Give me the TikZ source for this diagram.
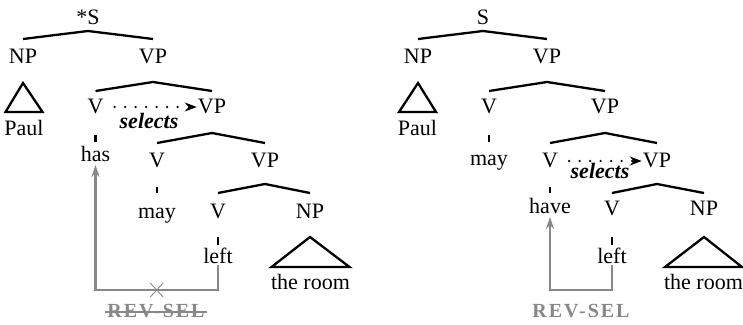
\documentclass[tikz,border=0pt]{standalone}
\usepackage{fontspec}
\setmainfont{Liberation Serif}
\newfontfamily\revfont[LetterSpace=10]{Liberation Serif}
\usetikzlibrary{arrows.meta,shapes.misc}
\definecolor{revgray}{RGB}{136,136,136}
\begin{document}
\begin{tikzpicture}[x=1pt,y=-1pt,
  every node/.style={inner sep=0pt, anchor=base, font=\fontsize{22}{26}\selectfont},
  br/.style={line width=2.3pt},
  sellink/.style={line width=2.6pt, line cap=round, dash pattern=on 0pt off 10.5pt},
  seltip/.style={line width=1pt, -{Stealth[length=12pt,width=9pt]}},
  selword/.style={font=\fontsize{22}{26}\selectfont\bfseries\itshape},
  revpath/.style={draw=revgray, line width=2.3pt, -{Stealth[length=12pt,width=8pt]}},
  revword/.style={text=revgray, font=\fontsize{20}{24}\selectfont\revfont\bfseries},
  xmark/.style={cross out, draw=revgray, line width=0.9pt, minimum width=12pt, minimum height=13pt, anchor=center},
  strike/.style={draw=revgray, line width=2pt}]
\useasboundingbox (0,0) rectangle (743,324);

% ---------- left tree ----------
\node (Sa) at (88,24) {*S};
\node (NPa) at (23,63) {NP};
\node (VPa) at (153,63) {VP};
\node (Paula) at (24,135) {Paul};
\node (Va) at (95.5,113) {V};
\node (VPa2) at (212,113) {VP};
\node[selword] (sela) at (149,128) {selects};
\node (hasa) at (95.5,161) {has};
\node (Va3) at (157,167) {V};
\node (VPa3) at (265,167) {VP};
\node (maya) at (157,218) {may};
\node (Va4) at (218,218) {V};
\node (NPa4) at (310,218) {NP};
\node (lefta) at (218,263) {left};
\node (rooma) at (310.5,289) {the room};
\node[revword] (reva) at (156,317) {REV-SEL};

\draw[br] ([yshift=24pt]NPa.base) -- ([yshift=-7pt]Sa.base) -- ([yshift=24pt]VPa.base);
\draw[br] ([yshift=22pt]Va.base) -- ([yshift=-19pt]VPa.base) -- ([yshift=22pt]VPa2.base);
\draw[br] ([yshift=24pt]Va3.base) -- ([yshift=-20pt]VPa2.base) -- ([yshift=24pt]VPa3.base);
\draw[br] ([yshift=25pt]Va4.base) -- ([yshift=-17pt]VPa3.base) -- ([yshift=25pt]NPa4.base);
\draw[br] ([yshift=-22pt]Va.base) -- ([yshift=19pt]hasa.base);
\draw[br] ([yshift=-20pt]Va3.base) -- ([yshift=25pt]maya.base);
\draw[br] ([yshift=-19pt]Va4.base) -- ([yshift=18pt]lefta.base);
\draw[br] ([yshift=-20pt]NPa.base) -- ([shift={(-18.5pt,23pt)}]Paula.base) -- ([shift={(18.5pt,23pt)}]Paula.base) -- cycle;
\draw[br] ([yshift=-19pt]NPa4.base) -- ([shift={(-39pt,22pt)}]rooma.base) -- ([shift={(39pt,22pt)}]rooma.base) -- cycle;
\draw[sellink] ([shift={(11pt,6pt)}]Va.base east) -- ([shift={(-10pt,6pt)}]VPa2.base west);
\draw[seltip] ([shift={(-6pt,6pt)}]VPa2.base west) -- ([shift={(-1pt,6pt)}]VPa2.base west);
\draw[revpath] ([yshift=-2pt]lefta.base) -- ++(0,25) -| node[pos=0.25, xmark] (xa) {} ([yshift=-4pt]hasa.base);
\draw[strike] ([shift={(-2pt,5pt)}]reva.base west) -- ([shift={(2pt,5pt)}]reva.base east);

% ---------- right tree ----------
\node (Sb) at (483,24) {S};
\node (NPb) at (418,63) {NP};
\node (VPb) at (547,63) {VP};
\node (Paulb) at (417.5,135) {Paul};
\node (Vb) at (489,113) {V};
\node (VPb2) at (605,113) {VP};
\node (mayb) at (489,165) {may};
\node (Vb3) at (550,167) {V};
\node (VPb3) at (657,167) {VP};
\node[selword] (selb) at (600,178) {selects};
\node (haveb) at (550,213) {have};
\node (Vb4) at (612,215) {V};
\node (NPb4) at (704,215) {NP};
\node (leftb) at (612,263) {left};
\node (roomb) at (703.5,289) {the room};
\node[revword] (revb) at (581,317) {REV-SEL};

\draw[br] ([yshift=24pt]NPb.base) -- ([yshift=-7pt]Sb.base) -- ([yshift=24pt]VPb.base);
\draw[br] ([yshift=22pt]Vb.base) -- ([yshift=-19pt]VPb.base) -- ([yshift=22pt]VPb2.base);
\draw[br] ([yshift=24pt]Vb3.base) -- ([yshift=-20pt]VPb2.base) -- ([yshift=24pt]VPb3.base);
\draw[br] ([yshift=22pt]Vb4.base) -- ([yshift=-17pt]VPb3.base) -- ([yshift=22pt]NPb4.base);
\draw[br] ([yshift=-22pt]Vb.base) -- ([yshift=23pt]mayb.base);
\draw[br] ([yshift=-20pt]Vb3.base) -- ([yshift=20pt]haveb.base);
\draw[br] ([yshift=-22pt]Vb4.base) -- ([yshift=18pt]leftb.base);
\draw[br] ([yshift=-20pt]NPb.base) -- ([shift={(-18.5pt,23pt)}]Paulb.base) -- ([shift={(18.5pt,23pt)}]Paulb.base) -- cycle;
\draw[br] ([yshift=-22pt]NPb4.base) -- ([shift={(-38.5pt,22pt)}]roomb.base) -- ([shift={(38.5pt,22pt)}]roomb.base) -- cycle;
\draw[sellink] ([shift={(11pt,6pt)}]Vb3.base east) -- ([shift={(-10pt,6pt)}]VPb3.base west);
\draw[seltip] ([shift={(-6pt,6pt)}]VPb3.base west) -- ([shift={(-1pt,6pt)}]VPb3.base west);
\draw[revpath] ([yshift=-2pt]leftb.base) -- ++(0,25) -| ([yshift=-4pt]haveb.base);
\end{tikzpicture}
\end{document}
